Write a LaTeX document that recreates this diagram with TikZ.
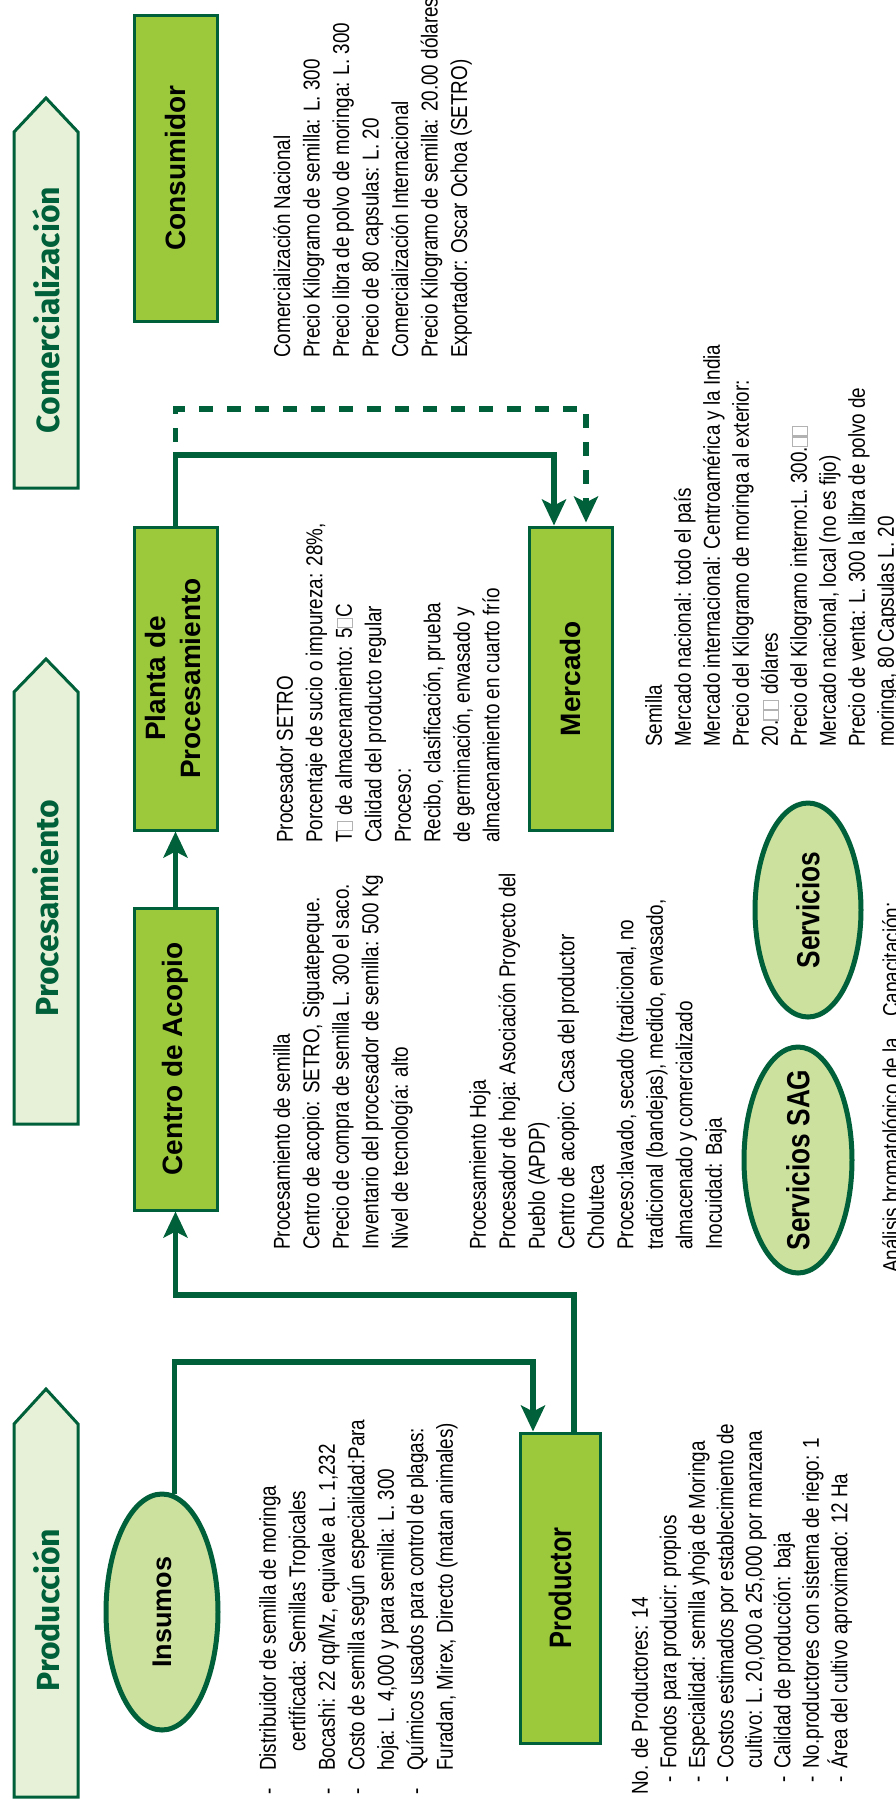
\documentclass[tikz,border=0pt]{standalone}
\usepackage{fontspec}
\usepackage{graphicx}
\setmainfont{Liberation Sans}
\newfontfamily\narrowfont[FakeStretch=0.82]{Liberation Sans}
\newfontfamily\bannerfont{Fira Sans}
\usetikzlibrary{shapes.geometric,arrows.meta,calc}
\definecolor{dkgreen}{RGB}{0,96,57}
\definecolor{boxgreen}{RGB}{155,201,59}
\definecolor{ellgreen}{RGB}{205,225,158}
\definecolor{bangreen}{RGB}{231,241,216}
\newcommand{\missbox}{\textcolor{black!30}{\setlength{\fboxrule}{1.2pt}\setlength{\fboxsep}{0pt}\fbox{\rule{0pt}{14pt}\hspace{8pt}}}}
\begin{document}
\begin{tikzpicture}[x=1pt,y=-1pt,line join=miter,
  box/.style={rectangle,draw=dkgreen,line width=3pt,fill=boxgreen,inner sep=0pt,minimum width=83pt,
    font=\bfseries\fontsize{28}{35}\selectfont},
  ell/.style={ellipse,draw=dkgreen,line width=5pt,fill=ellgreen,inner sep=0pt},
  lbl/.style={inner sep=0pt,font=\narrowfont\bfseries\fontsize{32}{35}\selectfont},
  info/.style={rotate=90,anchor=north west,align=left,inner sep=0pt,
    font=\narrowfont\fontsize{23}{29.5}\selectfont},
  conn/.style={draw=dkgreen,line width=5.5pt},
  arr/.style={-{Stealth[length=26pt,width=24pt,inset=6pt]}},
  banner/.style={draw=dkgreen,line width=3pt,fill=bangreen},
  bantext/.style={rotate=90,inner sep=0pt,text=dkgreen,
    font=\bannerfont\bfseries\fontsize{32}{36}\selectfont}]
\useasboundingbox (0,0) rectangle (896,1800);
\fill[white] (0,0) rectangle (896,1800);

% banners
\draw[banner] (14,488) -- (14,132) -- (46,98) -- (78,132) -- (78,488) -- cycle;
\node[bantext] (bcom) at (46,310) {Comercialización};
\draw[banner] (14,1124) -- (14,692) -- (46,659) -- (78,692) -- (78,1124) -- cycle;
\node[bantext] (bproc) at (46,908) {Procesamiento};
\draw[banner] (14,1797) -- (14,1424) -- (46,1389) -- (78,1424) -- (78,1797) -- cycle;
\node[bantext] (bprod) at (46,1610) {Producción};

% boxes
\node[box,minimum height=306pt] (cons) at (175.5,168) {\rotatebox{90}{Consumidor}};
\node[box,minimum height=303pt] (planta) at (175.5,678.5)
  {\rotatebox{90}{\begin{tabular}{@{}c@{}}Planta de\\Procesamiento\end{tabular}}};
\node[box,minimum height=303pt] (merc) at (570.5,678.5) {\rotatebox{90}{Mercado}};
\node[box,minimum height=302pt] (centro) at (175.5,1059) {\rotatebox{90}{Centro de Acopio}};
\node[box,minimum width=80pt,minimum height=310pt,font=\narrowfont\bfseries\fontsize{31}{35}\selectfont]
  (prod) at (560,1588) {\rotatebox{90}{Productor}};

% ellipses
\node[ell,minimum width=112pt,minimum height=236pt,
  label={[lbl,name=insl,font=\bfseries\fontsize{27}{30}\selectfont]center:\rotatebox{90}{Insumos}}] (ins) at (162,1612) {};
\node[ell,minimum width=106pt,minimum height=214pt,
  label={[lbl,name=servl]center:\rotatebox{90}{Servicios}}] (serv) at (808,910) {};
\node[ell,minimum width=108pt,minimum height=226pt,
  label={[lbl,name=sagl]center:\rotatebox{90}{Servicios SAG}}] (sag) at (798,1160) {};

% connectors
\coordinate (c2) at (533,1362);
\draw[conn,arr] (ins.84) |- (c2) -- (c2 |- prod.north);
\coordinate (c3) at (574,1295);
\draw[conn,arr] (c3 |- prod.north) -- (c3) -| (centro.south);
\draw[conn,arr] (centro.north) -- (planta.south);
\coordinate (c6) at (554,455);
\draw[conn,arr] (planta.north) |- (c6) -- (c6 |- merc.north);
\coordinate (c7) at (586,409);
\draw[conn,arr,dash pattern=on 14pt off 14pt] (planta.north) |- (c7) -- ($(c7 |- merc.north)+(0,-3)$);

% texts
\node[info] (constext) at (273,358) {Comercialización Nacional\\
Precio Kilogramo de semilla: L. 300\\
Precio libra de polvo de moringa: L. 300\\
Precio de 80 capsulas: L. 20\\
Comercialización Internacional\\
Precio Kilogramo de semilla: 20.00 dólares\\
Exportador: Oscar Ochoa (SETRO)};

\node[info] (plantatext) at (276,843) {Procesador SETRO\\
Porcentaje de sucio o impureza: 28\%,\\
T\missbox{} de almacenamiento: 5\missbox C\\
Calidad del producto regular\\
Proceso:\\
Recibo, clasificación, prueba\\
de germinación, envasado y\\
almacenamiento en cuarto frío};

\node[info,font=\narrowfont\fontsize{23}{29}\selectfont] (merctext) at (645,747) {Semilla\\
Mercado nacional: todo el país\\
Mercado internacional: Centroamérica y la India\\
Precio del Kilogramo de moringa al exterior:\\
20.\missbox\missbox{} dólares\\
Precio del Kilogramo interno:L. 300.\missbox\missbox\\
Mercado nacional, local (no es fijo)\\
Precio de venta: L. 300 la libra de polvo de\\
moringa, 80 Capsulas L. 20};

\node[info] (centrotext) at (273,1250) {Procesamiento de semilla\\
Centro de acopio: SETRO, Siguatepeque.\\
Precio de compra de semilla L. 300 el saco.\\
Inventario del procesador de semilla: 500 Kg\\
Nivel de tecnología: alto};

\node[info] (hojatext) at (469,1250) {Procesamiento Hoja\\
Procesador de hoja: Asociación Proyecto del\\
Pueblo (APDP)\\
Centro de acopio: Casa del productor\\
Choluteca\\
Proceso:lavado, secado (tradicional, no\\
tradicional (bandejas), medido, envasado,\\
almacenado y comercializado\\
Inocuidad: Baja};

\node[info] (instext) at (259,1798) {\makebox[27pt][l]{\hspace*{3pt}-}Distribuidor de semilla de moringa\\
\hspace*{46pt}certificada: Semillas Tropicales\\
\makebox[27pt][l]{\hspace*{3pt}-}Bocashi: 22 qq/Mz, equivale a L. 1,232\\
\makebox[27pt][l]{\hspace*{3pt}-}Costo de semilla según especialidad:Para\\
\hspace*{27pt}hoja: L. 4,000 y para semilla: L. 300\\
\makebox[27pt][l]{\hspace*{3pt}-}Químicos usados para control de plagas:\\
\hspace*{27pt}Furadan, Mirex, Directo (matan animales)};

\node[info,font=\narrowfont\fontsize{23}{28.5}\selectfont] (prodtext) at (631,1795) {No. de Productores: 14\\
\makebox[26pt][l]{\hspace*{12pt}-}Fondos para producir: propios\\
\makebox[26pt][l]{\hspace*{12pt}-}Especialidad: semilla yhoja de Moringa\\
\makebox[26pt][l]{\hspace*{12pt}-}Costos estimados por establecimiento de\\
\hspace*{26pt}cultivo: L. 20,000 a 25,000 por manzana\\
\makebox[26pt][l]{\hspace*{12pt}-}Calidad de producción: baja\\
\makebox[26pt][l]{\hspace*{12pt}-}No.productores con sistema de riego: 1\\
\makebox[26pt][l]{\hspace*{12pt}-}Área del cultivo aproximado: 12 Ha};

\node[info] (captext) at (882,1017) {Capacitación:};
\node[info] (analtext) at (882,1273) {Análisis bromatológico de la};
\end{tikzpicture}
\end{document}
